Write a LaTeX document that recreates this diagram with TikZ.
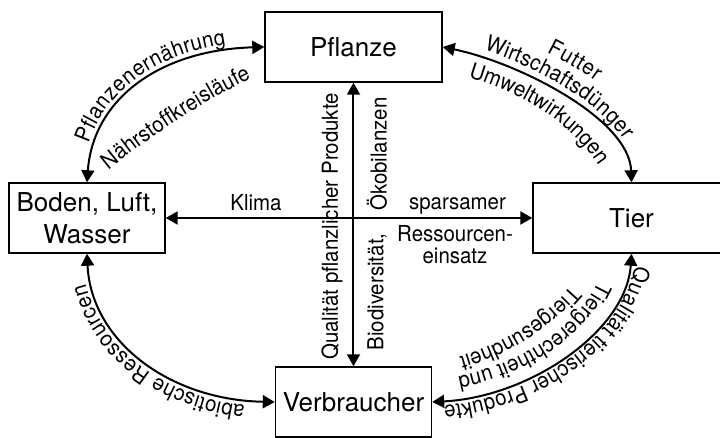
\documentclass[tikz,border=0pt]{standalone}
\usepackage{fontspec}
\setmainfont{TeX Gyre Heros}
\newfontfamily\narrowfont[FakeStretch=0.93]{TeX Gyre Heros}
\newcommand\lblfont{\narrowfont\fontsize{11}{10.8}\selectfont}
\usetikzlibrary{arrows.meta,decorations.text}

\begin{document}
\begin{tikzpicture}
[x=0.5pt,y=0.5pt,
box/.style={draw,line width=0.7pt,minimum height=35pt,inner sep=2pt,align=center,font=\fontsize{13}{16}\selectfont},
link/.style={{Triangle[length=6pt,width=6.5pt]}-{Triangle[length=6pt,width=6.5pt]},line width=1pt},
lbl/.style={font=\lblfont},
along/.style 2 args={decorate,decoration={text along path,text align=center,raise=#2,text={|\lblfont|#1}}}]
\useasboundingbox (0,0) rectangle (720,438);
%%%%% BOXES
\node[box,minimum width=88.5pt] (pflanze) at (353.5,391) {Pflanze};
\node[box,minimum width=78pt] (boden) at (87,220) {Boden, Luft,\\Wasser};
\node[box,minimum width=98.5pt] (tier) at (631.5,220) {Tier};
\node[box,minimum width=78pt] (verbraucher) at (353.5,36) {Verbraucher};
%%%%% STRAIGHT ARROWS
\draw[link] (pflanze.south) -- (verbraucher.north);
\draw[link] (boden.east) -- (tier.west);
\node[lbl,rotate=90] (qualpfl) at (332,211.5) {Qualität pflanzlicher Produkte};
\node[lbl,rotate=90] (oeko) at (377,284) {Ökobilanzen};
\node[lbl,rotate=90] (bio) at (377,146) {Biodiversität,};
\node[lbl,anchor=base] (klima) at (256,227) {Klima};
\node[lbl,anchor=base] (spars) at (457.5,228) {sparsamer};
\node[lbl,align=center,anchor=north,inner sep=0pt] (ress) at (455,213) {Ressourcen-\\einsatz};
%%%%% CURVED ARROWS
\draw[link,postaction={along={Pflanzenernährung}{3pt}}]
  (boden.north) .. controls +(6,83) and +(-105,-3) .. (pflanze.west);
\draw[link,postaction={along={Futter}{15pt}},postaction={along={Wirtschaftsdünger}{4pt}}]
  (pflanze.east) .. controls +(77,-16) and +(-2,63) .. (tier.north);
\draw[link,postaction={along={abiotische Ressourcen}{3pt}}]
  (verbraucher.west) .. controls +(-106,2) and +(4,-87) .. (boden.south);
\draw[link,postaction={along={Qualität tierischer Produkte}{2.5pt}}]
  (tier.south) .. controls +(-5,-77) and +(98,5) .. (verbraucher.east);
%%%%% INNER LABELS
\path[along={Nährstoffkreisläufe}{0pt}] (100.5,261.4) .. controls (146.5,300) and (206,339) .. (260.6,364.3);
\path[along={Umweltwirkungen}{0pt}] (460,363) .. controls (520,347) and (575.5,314) .. (604,265);
\path[along={Tiergerechtheit und}{0pt}] (606,186.3) .. controls (601.6,118.5) and (513.2,62.4) .. (427,58);
\path[along={Tiergesundheit}{0pt}] (579,161) .. controls (544,115) and (494,89) .. (447.7,78.3);
\end{tikzpicture}
\end{document}
